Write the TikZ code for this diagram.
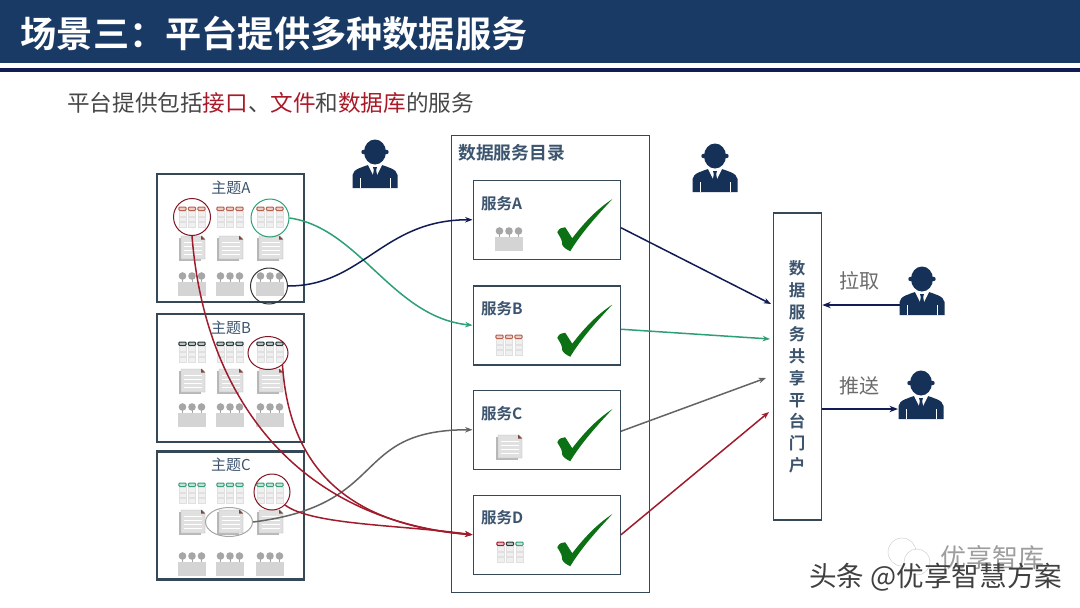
\documentclass[tikz,border=0pt]{standalone}
\usepackage{fontspec}
\setmainfont{Noto Sans CJK SC}[BoldFont=* Bold]
\usepackage{xcolor}
\usetikzlibrary{arrows.meta,positioning,shapes.geometric}
\definecolor{HeadNavy}{RGB}{26, 58, 102}
\definecolor{LineNavy}{RGB}{18, 28, 84}
\definecolor{BoxSlate}{RGB}{52, 72, 88}
\definecolor{TextSlate}{RGB}{60, 84, 110}
\definecolor{FlowGreen}{RGB}{46, 160, 118}
\definecolor{FlowRed}{RGB}{160, 28, 44}
\definecolor{FlowGray}{RGB}{100, 100, 100}
\definecolor{TickGreen}{RGB}{12, 112, 20}
\definecolor{PillRed}{RGB}{182, 96, 78}
\definecolor{PillDark}{RGB}{38, 58, 60}
\definecolor{PillGreen}{RGB}{58, 158, 122}
\newcommand{\fs}[1]{\fontsize{#1}{#1}\selectfont}

\tikzset{
    pics/tableicon/.style n args={3}{code={
        \foreach \cx/\col in {-9.5/#1, 0/#2, 9.5/#3}{
            \draw[\col, line width=1pt, fill=\col!30, rounded corners=1pt] (\cx-3.7,-11) rectangle (\cx+3.7,-7.5);
            \foreach \cy in {-4.5,1,6.5}
                \draw[black!12, fill=black!6] (\cx-3.5,\cy-2.2) rectangle (\cx+3.5,\cy+2.2);
        }
    }},
    pics/docicon/.style={code={
        \fill[black!28] (-13.5,-10) rectangle (9,13);
        \fill[black!12, draw=black!30] (-11,-12) -- (10,-12) -- (13,-9) -- (13,11) -- (-11,11) -- cycle;
        \foreach \ly in {-6,-2,2,6}
            \draw[white, line width=0.8pt] (-8,\ly) -- (10,\ly);
        \fill[PillRed!70!black] (9,-12.5) -- (13,-8.5) -- (9,-8.5) -- cycle;
    }},
    pics/groupicon/.style={code={
        \fill[black!17] (-14,-1.5) rectangle (14,13);
        \foreach \cx in {-9.5,0,9.5}{
            \draw[black!35, line width=0.8pt] (\cx,-7) -- (\cx,-1);
            \fill[black!35] (\cx,-7) circle (3.8);
        }
    }},
    pics/tick/.style={code={
        \fill[TickGreen] (10.5,12.5) .. controls (13,8.5) .. (18.5,7.5) -- (25.5,18.5)
            .. controls (38,2) and (52,-12) .. (65.5,-20.5)
            .. controls (50,-4) and (34,14) .. (23.5,31.5)
            .. controls (20,30) and (16,27) .. (15.5,25) .. controls (15,20) .. cycle;
    }},
    pics/person/.style={code={
        \fill[HeadNavy!85!black] (-22.5,24) -- (-22.5,11) .. controls (-22,5) and (-12,3) .. (-7,1)
            -- (7,1) .. controls (12,3) and (22,5) .. (22.5,11) -- (22.5,24) -- cycle;
        \fill[white] (-7,1) -- (7,1) -- (1.5,12) -- (-1.5,12) -- cycle;
        \fill[HeadNavy!85!black] (-2,3) -- (2,3) -- (1.2,6) -- (3,17) -- (0,23) -- (-3,17) -- (-1.2,6) -- cycle;
        \draw[white, line width=0.6pt] (-15,14) -- (-15,24) (15,14) -- (15,24);
        \fill[HeadNavy!85!black] (0,-12) ellipse (11 and 12.5);
        \fill[HeadNavy!85!black] (-11.5,-12) circle (2.2) (11.5,-12) circle (2.2);
    }}
}

\begin{document}
\begin{tikzpicture}[
    x=1pt, y=-1pt,
    topicbox/.style={draw=BoxSlate, line width=2.2pt, fill=white, minimum width=147pt, minimum height=128pt, inner sep=0pt},
    svcbox/.style={draw=BoxSlate, line width=1.5pt, fill=white, minimum width=147pt, minimum height=79pt, inner sep=0pt},
    svclabel/.style={font=\bfseries\fs{15.5}, text=TextSlate, inner sep=0pt},
    topiclabel/.style={font=\fs{15}, text=TextSlate, inner sep=0pt},
    graylabel/.style={font=\fs{20}, text=black!58, inner sep=0pt},
    ring/.style={ellipse, draw, line width=1pt, inner sep=0pt},
    arr/.style={-{Stealth[length=2.6mm]}, line width=1.5pt},
    thickarr/.style={-{Stealth[length=3mm, open, line width=1.4pt]}, line width=2.2pt, LineNavy}
]
    \useasboundingbox (0,0) rectangle (1080,608);
    \fill[white] (0,0) rectangle (1080,608);

    % header
    \fill[HeadNavy] (0,0) rectangle (1080,63);
    \fill[LineNavy] (0,68) rectangle (1080,72);
    \node[anchor=west, inner sep=0pt, text=white, font=\bfseries\fs{36.2}] (title) at (20.5,34) {场景三：平台提供多种数据服务};
    \node[anchor=west, inner sep=0pt, text=black!72, font=\fs{22.6}] (subtitle) at (67,103)
        {平台提供包括\textcolor{FlowRed!90!red}{接口}、\textcolor{FlowRed!90!red}{文件}和\textcolor{FlowRed!90!red}{数据库}的服务};

    % topic boxes
    \node[topicbox, anchor=north west] (topicA) at (156,173) {};
    \node[topicbox, below=10pt of topicA] (topicB) {};
    \node[topicbox, below=7pt of topicB] (topicC) {};
    \node[topiclabel] (labelA) at (231,188) {主题A};
    \node[topiclabel] (labelB) at (231,328) {主题B};
    \node[topiclabel] (labelC) at (231,465) {主题C};

    \foreach \ix in {192,230,270}{
        \pic at (\ix,218) {tableicon={PillRed}{PillRed}{PillRed}};
        \pic at (\ix,248) {docicon};
        \pic at (\ix,283) {groupicon};
        \pic at (\ix,353) {tableicon={PillDark}{PillDark}{PillDark}};
        \pic at (\ix,381) {docicon};
        \pic at (\ix,414) {groupicon};
        \pic at (\ix,494) {tableicon={PillGreen}{PillGreen}{PillGreen}};
        \pic at (\ix,522) {docicon};
        \pic at (\ix,563) {groupicon};
    }

    % picked items
    \node[ring, draw=FlowRed!80!black, minimum width=37pt, minimum height=37pt] (ringAred) at (192,217) {};
    \node[ring, draw=FlowGreen, minimum width=38pt, minimum height=38pt] (ringAgreen) at (270,218) {};
    \node[ring, draw=black!80, minimum width=37pt, minimum height=36pt] (ringAdark) at (269,286) {};
    \node[ring, draw=FlowRed!80!black, minimum width=40pt, minimum height=33pt] (ringB) at (268,353) {};
    \node[ring, draw=FlowRed!80!black, minimum width=36pt, minimum height=36pt] (ringCred) at (272,492) {};
    \node[ring, draw=black!35, minimum width=47pt, minimum height=29pt] (ringCgray) at (229,522) {};

    % catalogue
    \node[draw=BoxSlate, line width=1.5pt, fill=white, minimum width=198pt, minimum height=457pt, anchor=north west, inner sep=0pt] (catalog) at (450.5,134.5) {};
    \node[anchor=west, inner sep=0pt, font=\bfseries\fs{17.8}, text=TextSlate] (catalogtitle) at (458,153) {数据服务目录};
    \node[svcbox, anchor=north west] (svcA) at (472.5,179.5) {};
    \node[svcbox, below=25pt of svcA] (svcB) {};
    \node[svcbox, below=24pt of svcB] (svcC) {};
    \node[svcbox, below=24.5pt of svcC] (svcD) {};
    \node[svclabel, anchor=west] (nameA) at (481,204) {服务A};
    \node[svclabel, anchor=west] (nameB) at (481,309) {服务B};
    \node[svclabel, anchor=west] (nameC) at (481,414) {服务C};
    \node[svclabel, anchor=west] (nameD) at (481,518) {服务D};
    \pic at (509,238) {groupicon};
    \pic at (509,346) {tableicon={PillRed}{PillRed}{PillRed}};
    \pic at (509,447) {docicon};
    \pic at (510,553) {tableicon={FlowRed}{PillDark}{PillGreen}};
    \foreach \s in {svcA,svcB,svcC,svcD}
        \pic at (\s.center) {tick};

    % portal
    \node[draw=BoxSlate, line width=1.5pt, fill=white, minimum width=48pt, minimum height=307pt, inner sep=0pt] (portal) at (797.5,366.5) {};
    \node[inner sep=0pt, align=center, text=TextSlate, font=\bfseries\fontsize{16.5}{21.9}\selectfont] (portaltext) at (797,367)
        {数\\据\\服\\务\\共\\享\\平\\台\\门\\户};

    % people
    \pic at (375,164) {person};
    \pic at (715,168) {person};
    \pic at (922,291) {person};
    \pic at (921,395) {person};
    \coordinate (pullman) at (900,305);
    \coordinate (pushman) at (898,409);
    \node[graylabel] (pulllabel) at (859,281) {拉取};
    \node[graylabel] (pushlabel) at (859,386) {推送};

    % free ends on the portal side
    \coordinate (inA) at (771,304);
    \coordinate (inB) at (770,339);
    \coordinate (inC) at (766,378);
    \coordinate (inD) at (769,412);

    % flows into the catalogue
    \draw[arr, FlowGreen] (ringAgreen.east) .. controls +(70,10) and +(-80,-8) .. (svcB.west);
    \draw[arr, LineNavy] (ringAdark.east) .. controls +(75,0) and +(-90,0) .. (svcA.west);
    \draw[arr, FlowGray] (ringCgray.east) .. controls +(138,-17) and +(-123,0) .. (svcC.west);
    \draw[arr, FlowRed] (ringAred.south) .. controls +(13,165) and +(-173,-15) .. (svcD.west);
    \draw[arr, FlowRed] (ringB.south east) .. controls +(7,105) and +(-123,-10) .. (svcD.west);
    \draw[arr, FlowRed] (ringCred.south east) .. controls +(27,20) and +(-73,-10) .. (svcD.west);

    % flows out to the portal
    \draw[arr, LineNavy] (svcA.east) ++(0,8) coordinate (outA) (outA) -- (inA);
    \draw[arr, FlowGreen] (svcB.east) ++(0,4) coordinate (outB) (outB) -- (inB);
    \draw[arr, FlowGray] (svcC.east) ++(0,1.5) coordinate (outC) (outC) -- (inC);
    \draw[arr, FlowRed] (svcD.east) ++(0,0) coordinate (outD) (outD) -- (inD);

    \draw[thickarr] (pullman) -- (portal.east |- pullman);
    \draw[thickarr] (portal.east |- pushman) -- (pushman);

    % watermark
    \node[circle, draw=black!22, fill=white, minimum size=28pt, inner sep=0pt] (wechatA) at (902,552) {};
    \node[circle, draw=black!22, fill=white, minimum size=26pt, inner sep=0pt] (wechatB) at (917,562) {};
    \node[anchor=west, inner sep=0pt, font=\fs{26}, text=black!38] (markA) at (940,558) {优享智库};
    \node[anchor=west, inner sep=0pt, font=\fs{27.6}, text=black!75] (markB) at (809,577) {头条 @优享智慧方案};
\end{tikzpicture}
\end{document}
